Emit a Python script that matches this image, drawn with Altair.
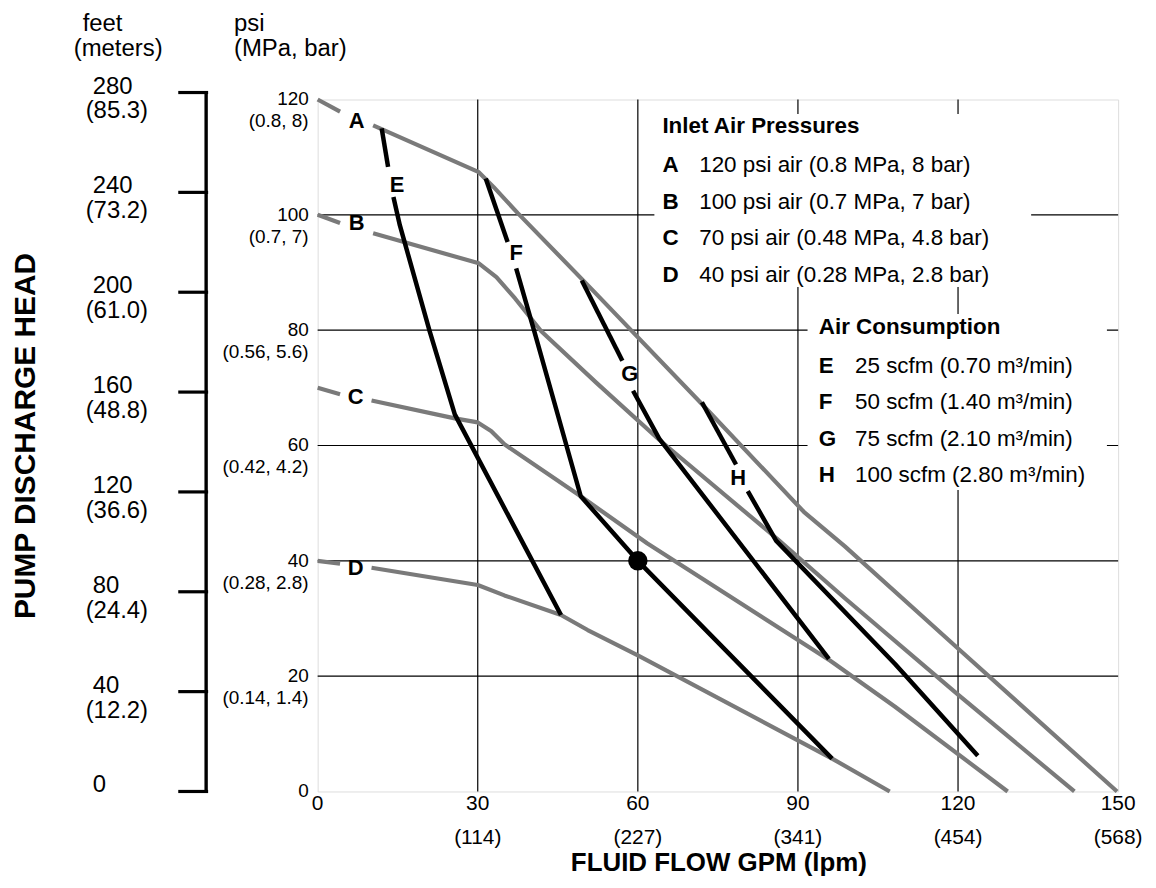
import altair as alt
import pandas as pd

FONT = "Liberation Sans"
W, H = 804, 695

# ---------------- curve data (GPM, psi); seg marks the gap where the letter sits
A_gpm = [0, 4.2, 10.4, 30.2, 33.0, 37.5, 52.2, 72.0, 91.1, 98.8, 120.0, 149.8]
A_psi = [120, 117.9, 115.5, 107.4, 104.8, 100.3, 86.3, 67.2, 48.5, 42.5, 24.8, 0]
A_seg = [0, 0, 1, 1, 1, 1, 1, 1, 1, 1, 1, 1]

B_gpm = [0, 4.2, 10.4, 30.2, 33.5, 37.0, 41.9, 52.2, 64.0, 86.5, 98.8, 120.0, 141.8]
B_psi = [100, 98.6, 96.8, 91.6, 89.2, 85.5, 79.8, 70.9, 61.0, 43.5, 33.5, 16.8, 0]
B_seg = [0, 0, 1, 1, 1, 1, 1, 1, 1, 1, 1, 1, 1]

C_gpm = [0, 4.2, 10.1, 25.7, 30.0, 32.5, 35.0, 49.3, 61.8, 96.0, 108.2, 129.3]
C_psi = [70, 68.9, 67.8, 64.7, 64.0, 62.5, 60.2, 51.2, 43.0, 22.7, 14.7, 0]
C_seg = [0, 0, 1, 1, 1, 1, 1, 1, 1, 1, 1, 1]

D_gpm = [0, 4.2, 10.1, 30.0, 35.0, 45.6, 50.6, 60.0, 96.4, 107.2]
D_psi = [40, 39.5, 38.8, 35.8, 34.0, 30.6, 28.0, 23.6, 5.7, 0]
D_seg = [0, 0, 1, 1, 1, 1, 1, 1, 1, 1]

E_gpm = [12.0, 13.2, 14.2, 15.4, 21.0, 25.7, 45.6]
E_psi = [115.0, 108.3, 103.1, 98.2, 79.8, 65.4, 30.6]
E_seg = [0, 0, 1, 1, 1, 1, 1]

F_gpm = [31.5, 35.6, 37.2, 40.6, 49.3, 60.0, 96.4]
F_psi = [106.3, 95.3, 90.7, 79.8, 51.2, 40.0, 5.7]
F_seg = [0, 0, 1, 1, 1, 1, 1]

G_gpm = [49.5, 57.1, 59.1, 64.0, 95.8]
G_psi = [88.6, 74.7, 69.5, 61.2, 23.0]
G_seg = [0, 0, 1, 1, 1]

H_gpm = [72.0, 78.4, 80.6, 85.9, 108.2, 123.7]
H_psi = [67.5, 56.7, 52.1, 43.5, 22.1, 6.2]
H_seg = [0, 0, 1, 1, 1, 1]

# curve letters
label_text = ["A", "B", "C", "D", "E", "F", "G", "H"]
label_gpm = [7.3, 7.3, 7.1, 7.1, 14.9, 37.2, 58.5, 78.8]
label_psi = [116.2, 98.5, 68.4, 38.8, 105.1, 93.3, 72.4, 54.4]

# operating point
dot_gpm = [60]
dot_psi = [40]

# legend
pressure_letters = ["A", "B", "C", "D"]
pressure_text = ["120 psi air (0.8 MPa, 8 bar)", "100 psi air (0.7 MPa, 7 bar)",
                 "70 psi air (0.48 MPa, 4.8 bar)", "40 psi air (0.28 MPa, 2.8 bar)"]
consumption_letters = ["E", "F", "G", "H"]
consumption_text = ["25 scfm (0.70 m³/min)", "50 scfm (1.40 m³/min)",
                    "75 scfm (2.10 m³/min)", "100 scfm (2.80 m³/min)"]

# axes
gpm_ticks = [0, 30, 60, 90, 120, 150]
lpm_labels = ["", "(114)", "(227)", "(341)", "(454)", "(568)"]
psi_ticks = [0, 20, 40, 60, 80, 100, 120]
mpa_bar_labels = ["", "(0.14, 1.4)", "(0.28, 2.8)", "(0.42, 4.2)", "(0.56, 5.6)", "(0.7, 7)", "(0.8, 8)"]
feet_ticks = [0, 40, 80, 120, 160, 200, 240, 280]
meter_labels = ["", "(12.2)", "(24.4)", "(36.6)", "(48.8)", "(61.0)", "(73.2)", "(85.3)"]
FT_PER_PSI = 2.31

# ---------------- build tables
rows = []
curve_defs = {"A": (A_gpm, A_psi, A_seg), "B": (B_gpm, B_psi, B_seg),
              "C": (C_gpm, C_psi, C_seg), "D": (D_gpm, D_psi, D_seg),
              "E": (E_gpm, E_psi, E_seg), "F": (F_gpm, F_psi, F_seg),
              "G": (G_gpm, G_psi, G_seg), "H": (H_gpm, H_psi, H_seg)}
for name, (xs, ys, ss) in curve_defs.items():
    kind = "air" if name in "ABCD" else "consumption"
    for i, (x, y, s) in enumerate(zip(xs, ys, ss)):
        rows.append({"curve": name, "seg": f"{name}{s}", "gpm": x, "psi": y, "kind": kind, "i": i})
curves = pd.DataFrame(rows)

xscale = alt.Scale(domain=[0, 150], nice=False, zero=True)
yscale = alt.Scale(domain=[0, 120], nice=False, zero=True)


def X(field, **kw):
    return alt.X(field, scale=xscale, axis=None, **kw)


def Y(field, **kw):
    return alt.Y(field, scale=yscale, axis=None, **kw)


gpm_df = pd.DataFrame({"gpm": gpm_ticks, "t": [str(v) for v in gpm_ticks], "lpm": lpm_labels})
psi_df = pd.DataFrame({"psi": psi_ticks, "t": [str(v) for v in psi_ticks], "mpa": mpa_bar_labels})

# gridlines (interior only; the frame is the view stroke)
vgrid = alt.Chart(gpm_df).transform_filter("datum.gpm > 0 && datum.gpm < 150").mark_rule(
    color="black", strokeWidth=1.2).encode(x=X("gpm:Q"))
hgrid = alt.Chart(psi_df).transform_filter("datum.psi > 0 && datum.psi < 120").mark_rule(
    color="black", strokeWidth=1.2).encode(y=Y("psi:Q"))

# tick labels
x_labels = alt.Chart(gpm_df).mark_text(font=FONT, fontSize=21, align="center", baseline="middle",
                                      color="black").encode(x=X("gpm:Q"), y=alt.value(H + 13), text="t:N")
lpm = alt.Chart(gpm_df).mark_text(font=FONT, fontSize=21, align="center", baseline="middle",
                                  color="black").encode(x=X("gpm:Q"), y=alt.value(H + 47), text="lpm:N")
y_labels = alt.Chart(psi_df).mark_text(font=FONT, fontSize=19, align="right", baseline="middle",
                                      color="black").encode(x=alt.value(-9), y=Y("psi:Q"), text="t:N")
mpa = alt.Chart(psi_df).mark_text(font=FONT, fontSize=19, align="right", baseline="middle", dy=22,
                                  color="black").encode(x=alt.value(-9), y=Y("psi:Q"), text="mpa:N")

# white legend backgrounds (interrupt the grid)
box_df = pd.DataFrame({"x1": [63.1, 91.8], "x2": [133.7, 147.9], "y1": [87.5, 52.3], "y2": [117.5, 82.8]})
boxes = alt.Chart(box_df).mark_rect(color="white").encode(
    x=X("x1:Q"), x2="x2:Q", y=Y("y1:Q"), y2="y2:Q")

gray_lines = alt.Chart(curves).transform_filter(alt.datum.kind == "air").mark_line(
    color="#7a7a7a", strokeWidth=4.2, strokeCap="butt", strokeJoin="round").encode(
    x=X("gpm:Q"), y=Y("psi:Q"), detail="seg:N", order="i:Q")

black_lines = alt.Chart(curves).transform_filter(alt.datum.kind == "consumption").mark_line(
    color="black", strokeWidth=4.5, strokeCap="butt", strokeJoin="round").encode(
    x=X("gpm:Q"), y=Y("psi:Q"), detail="seg:N", order="i:Q")

dot = alt.Chart(pd.DataFrame({"gpm": dot_gpm, "psi": dot_psi})).mark_circle(
    size=380, color="black", opacity=1).encode(x=X("gpm:Q"), y=Y("psi:Q"))

curve_labels = alt.Chart(pd.DataFrame({"t": label_text, "gpm": label_gpm, "psi": label_psi})).mark_text(
    font=FONT, fontSize=22, fontWeight="bold", color="black").encode(
    x=X("gpm:Q"), y=Y("psi:Q"), text="t:N")

# legend text
leg_rows = []
for i, (l, t) in enumerate(zip(pressure_letters, pressure_text)):
    leg_rows.append({"letter": l, "t": t, "lx": 64.6, "tx": 71.5, "psi": 108.7 - i * 6.4})
for i, (l, t) in enumerate(zip(consumption_letters, consumption_text)):
    leg_rows.append({"letter": l, "t": t, "lx": 93.9, "tx": 100.7, "psi": 73.8 - i * 6.3})
leg = pd.DataFrame(leg_rows)
leg_titles = pd.DataFrame({"t": ["Inlet Air Pressures", "Air Consumption"], "x": [64.6, 93.9], "psi": [115.4, 80.5]})

LEG_FS = 22.5
leg_title_mark = alt.Chart(leg_titles).mark_text(
    font=FONT, fontSize=LEG_FS, fontWeight="bold", align="left", baseline="middle", color="black").encode(
    x=X("x:Q"), y=Y("psi:Q"), text="t:N")
leg_letter_mark = alt.Chart(leg).mark_text(
    font=FONT, fontSize=LEG_FS, fontWeight="bold", align="left", baseline="middle", color="black").encode(
    x=X("lx:Q"), y=Y("psi:Q"), text="letter:N")
leg_text_mark = alt.Chart(leg).mark_text(
    font=FONT, fontSize=LEG_FS, align="left", baseline="middle", color="black").encode(
    x=X("tx:Q"), y=Y("psi:Q"), text="t:N")

# feet / meters bracket axis
feet_df = pd.DataFrame({"ft": feet_ticks, "m": meter_labels})
feet_base = alt.Chart(feet_df).transform_calculate(psi=f"datum.ft / {FT_PER_PSI}")
feet_ticks_mark = feet_base.mark_rule(color="black", strokeWidth=3.2).encode(
    x=alt.value(-140), x2=alt.value(-110), y=Y("psi:Q"))
feet_spine = alt.Chart(pd.DataFrame({"lo": [min(feet_ticks)], "hi": [max(feet_ticks)]})).transform_calculate(
    p1=f"datum.lo / {FT_PER_PSI}", p2=f"datum.hi / {FT_PER_PSI}").mark_rule(
    color="black", strokeWidth=3.4).encode(x=alt.value(-112), y=Y("p1:Q"), y2="p2:Q")
feet_lab1 = feet_base.mark_text(font=FONT, fontSize=24, align="left", baseline="middle",
                                dy=-6, color="black").encode(
    x=alt.value(-226), y=Y("psi:Q"), text="ft:Q")
feet_lab2 = feet_base.mark_text(font=FONT, fontSize=24, align="left", baseline="middle",
                                dy=19, color="black").encode(
    x=alt.value(-233), y=Y("psi:Q"), text="m:N")


# headers and titles (pixel-placed text)
def pixel_text(txt, px, py, size, weight="normal", angle=0, align="left"):
    return alt.Chart(pd.DataFrame({"t": [txt]})).mark_text(
        font=FONT, fontSize=size, fontWeight=weight, angle=angle, align=align,
        baseline="middle", color="black").encode(x=alt.value(px), y=alt.value(py), text="t:N")


headers = [
    pixel_text("feet", -236, -76, 24),
    pixel_text("(meters)", -245, -51, 24),
    pixel_text("psi", -84, -76, 24),
    pixel_text("(MPa, bar)", -84, -51, 24),
]
ytitle = pixel_text("PUMP DISCHARGE HEAD", -293, 338, 30, weight="bold", angle=270, align="center")
xtitle = pixel_text("FLUID FLOW GPM (lpm)", 403, H + 72, 26, weight="bold", align="center")

chart = alt.layer(
    vgrid, hgrid, boxes, gray_lines, black_lines, dot, curve_labels,
    leg_title_mark, leg_letter_mark, leg_text_mark,
    x_labels, lpm, y_labels, mpa,
    feet_spine, feet_ticks_mark, feet_lab1, feet_lab2,
    *headers, ytitle, xtitle,
).properties(
    width=W, height=H, padding={"left": 3, "top": 2, "right": 5, "bottom": 2}
).configure_view(stroke="black", strokeWidth=1.6).configure(background="white")

chart.save("out.html", embed_options={"renderer": "svg", "actions": False})
